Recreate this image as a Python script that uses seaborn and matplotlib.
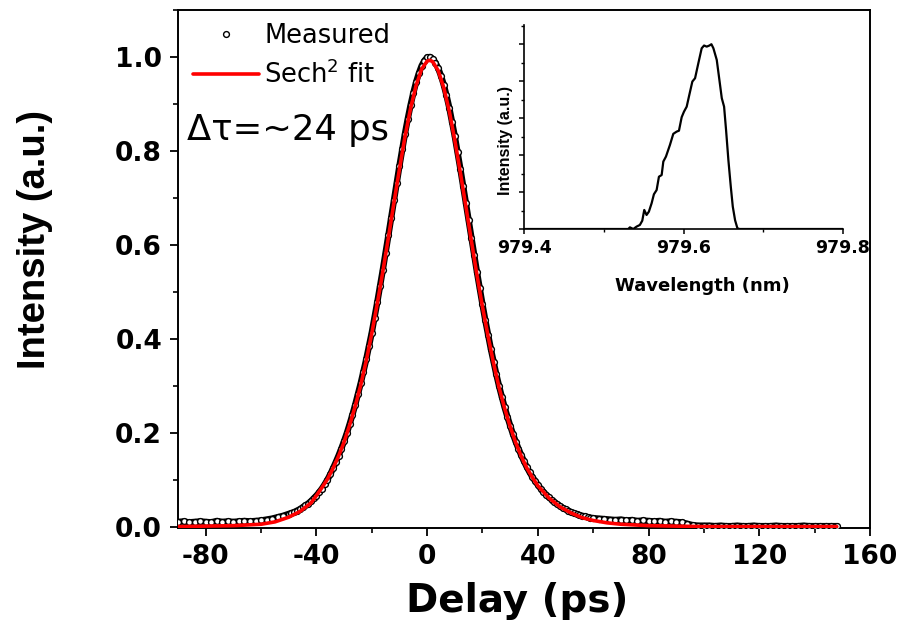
import numpy as np
import pandas as pd
import seaborn as sns
import matplotlib
matplotlib.use("Agg")
import matplotlib.pyplot as plt
from matplotlib.ticker import MultipleLocator, NullFormatter

# ---------------- data ----------------
delay_ps = [-90, -88, -86, -84, -82, -80, -78, -76, -74, -72, -70, -68, -66, -64, -62, -60, -58, -56, -54, -52, -50,
            -49, -48, -47, -46, -45, -44, -43, -42, -41, -40, -39, -38, -37, -36, -35, -34, -33, -32, -31, -30,
            -29, -28, -27, -26, -25, -24, -23, -22, -21, -20, -19, -18, -17, -16, -15, -14, -13, -12, -11, -10,
            -9, -8, -7, -6, -5, -4, -3, -2, -1, 0, 1, 2, 3, 4, 5, 6, 7, 8, 9, 10,
            11, 12, 13, 14, 15, 16, 17, 18, 19, 20, 21, 22, 23, 24, 25, 26, 27, 28, 29, 30,
            31, 32, 33, 34, 35, 36, 37, 38, 39, 40, 41, 42, 43, 44, 45, 46, 47, 48, 49, 50,
            51, 52, 53, 54, 55, 56, 57, 58, 59, 60,
            62, 64, 66, 68, 70, 72, 74, 76, 78, 80, 82, 84, 86, 88, 90, 92, 94, 96, 98, 100,
            102, 104, 106, 108, 110, 112, 114, 116, 118, 120, 122, 124, 126, 128, 130, 132, 134, 136, 138, 140,
            142, 144, 146, 148]
measured = [0.010, 0.011, 0.009, 0.010, 0.011, 0.010, 0.009, 0.012, 0.010, 0.011, 0.010, 0.011, 0.012, 0.011,
            0.012, 0.013, 0.015, 0.017, 0.020, 0.023, 0.027,
            0.029, 0.031, 0.034, 0.037, 0.041, 0.045, 0.049, 0.054, 0.060, 0.066,
            0.073, 0.081, 0.090, 0.100, 0.111, 0.124, 0.137, 0.151, 0.166, 0.182,
            0.199, 0.218, 0.238, 0.259, 0.282, 0.305, 0.330, 0.356, 0.384, 0.413,
            0.445, 0.478, 0.512, 0.547, 0.583, 0.620, 0.657, 0.695, 0.732, 0.768,
            0.803, 0.837, 0.868, 0.897, 0.923, 0.946, 0.965, 0.981, 0.992, 0.999,
            1.000, 0.996, 0.988, 0.976, 0.960, 0.941, 0.918, 0.892, 0.862, 0.831,
            0.797, 0.762, 0.726, 0.689, 0.652, 0.615, 0.578, 0.542, 0.507, 0.473,
            0.440, 0.409, 0.379, 0.351, 0.324, 0.299, 0.276, 0.254, 0.234, 0.215,
            0.197, 0.181, 0.166, 0.152, 0.139, 0.127, 0.116, 0.106, 0.097, 0.089,
            0.081, 0.074, 0.068, 0.062, 0.057, 0.052, 0.048, 0.044, 0.040, 0.037,
            0.034, 0.031, 0.029, 0.027, 0.025, 0.023, 0.022, 0.020, 0.019, 0.018,
            0.017, 0.016, 0.015, 0.014, 0.015, 0.013, 0.014, 0.012, 0.013, 0.012,
            0.011, 0.012, 0.010, 0.011, 0.010, 0.009, 0.006, 0.003, 0.002, 0.002,
            0.002, 0.001, 0.002, 0.001, 0.001, 0.002, 0.001, 0.001, 0.002, 0.001,
            0.001, 0.001, 0.002, 0.001, 0.001, 0.001, 0.001, 0.002, 0.001, 0.001,
            0.001, 0.001, 0.001, 0.001]

delay_fit = [-90, -80, -70, -60, -55, -50, -46, -42, -40, -38, -36, -34, -32, -30, -28, -26, -24, -22, -20,
             -18, -16, -14, -12, -10, -8, -6, -4, -2, 0, 1, 2, 4, 6, 8, 10, 12, 14, 16, 18, 20, 22, 24, 26,
             28, 30, 32, 34, 36, 38, 40, 44, 48, 52, 56, 60, 65, 70, 80, 90, 100, 120, 148]
fit_vals = [0.000, 0.001, 0.002, 0.005, 0.010, 0.020, 0.032, 0.050, 0.066, 0.083, 0.101, 0.124, 0.150,
            0.180, 0.216, 0.256, 0.301, 0.353, 0.411, 0.475, 0.543, 0.615, 0.689, 0.761, 0.830, 0.890,
            0.939, 0.974, 0.991, 0.993, 0.990, 0.971, 0.935, 0.885, 0.823, 0.754, 0.682, 0.608, 0.536,
            0.468, 0.406, 0.348, 0.296, 0.252, 0.213, 0.179, 0.150, 0.125, 0.105, 0.087, 0.061, 0.042,
            0.029, 0.019, 0.013, 0.008, 0.005, 0.002, 0.001, 0.000, 0.000, 0.000]

wavelength_nm = [979.400, 979.500, 979.5307, 979.5328, 979.5370, 979.5412, 979.5453, 979.5483, 979.5508,
                 979.5537, 979.5566, 979.5600, 979.5629, 979.5663, 979.5692, 979.5726, 979.5747, 979.5780,
                 979.5830, 979.5872, 979.5914, 979.5943, 979.5977, 979.6006, 979.6040, 979.6073, 979.6111,
                 979.6145, 979.6186, 979.6228, 979.6258, 979.6291, 979.6325, 979.6350, 979.6375, 979.6417,
                 979.6450, 979.6480, 979.6509, 979.6534, 979.6563, 979.6593, 979.6618, 979.6647, 979.6676,
                 979.6702, 979.700, 979.800]
spectrum = [0.0, 0.0, 0.0, 0.009, 0.0, 0.013, 0.022, 0.045, 0.103,
            0.076, 0.094, 0.139, 0.188, 0.211, 0.283, 0.292, 0.365, 0.392,
            0.455, 0.515, 0.527, 0.532, 0.605, 0.635, 0.662, 0.726, 0.798,
            0.816, 0.897, 0.978, 0.993, 0.987, 0.993, 1.000, 0.978, 0.915,
            0.807, 0.708, 0.662, 0.534, 0.372, 0.229, 0.121, 0.047, 0.004,
            0.0, 0.0, 0.0]

x_ticks = [-80, -40, 0, 40, 80, 120, 160]
x_tick_labels = ["-80", "-40", "0", "40", "80", "120", "160"]
y_ticks = [0.0, 0.2, 0.4, 0.6, 0.8, 1.0]
y_tick_labels = ["0.0", "0.2", "0.4", "0.6", "0.8", "1.0"]
inset_x_ticks = [979.4, 979.6, 979.8]
inset_x_tick_labels = ["979.4", "979.6", "979.8"]

# ---------------- style ----------------
sns.set_theme(style="ticks")
plt.rcParams["font.family"] = ["DejaVu Sans"]
plt.rcParams["mathtext.fontset"] = "custom"
plt.rcParams["mathtext.rm"] = "DejaVu Sans"
plt.rcParams["axes.linewidth"] = 1.4
plt.rcParams["axes.edgecolor"] = "black"

fig = plt.figure(figsize=(9.01, 6.28), dpi=100)
W, H = 901.0, 628.0

# ---------------- main axes ----------------
ax = fig.add_axes([178 / W, 1 - 528 / H, 692 / W, 518 / H])
sns.lineplot(x=delay_ps, y=measured, color="black", lw=4.6, estimator=None, sort=False,
             ax=ax, zorder=2)
sns.lineplot(x=delay_ps, y=measured, color="black", marker="o", linestyle="", markersize=4.2,
             markerfacecolor="white", markeredgecolor="black", markeredgewidth=1.0,
             estimator=None, sort=False, ax=ax, label="Measured", zorder=3)
sns.lineplot(x=delay_fit, y=fit_vals, color="red", lw=2.6, estimator=None, sort=False,
             ax=ax, label="Sech$^2$ fit", zorder=4)

ax.set_xlim(-90, 160)
ax.set_ylim(-0.003, 1.1)
ax.set_xticks(x_ticks)
ax.set_xticklabels(x_tick_labels, fontsize=19, fontweight="bold")
ax.set_yticks(y_ticks)
ax.set_yticklabels(y_tick_labels, fontsize=19, fontweight="bold")
ax.xaxis.set_minor_locator(MultipleLocator(20))
ax.yaxis.set_minor_locator(MultipleLocator(0.1))
ax.tick_params(axis="both", which="major", direction="out", length=5.5, width=1.3,
               colors="black", pad=6)
ax.tick_params(axis="both", which="minor", direction="out", length=3.5, width=1.2, colors="black")
for s in ax.spines.values():
    s.set_visible(True)
    s.set_color("black")
    s.set_linewidth(1.4)

ax.set_xlabel("Delay (ps)", fontsize=28, fontweight="bold", color="black")
ax.set_ylabel("Intensity (a.u.)", fontsize=27.5, fontweight="bold", color="black",
              family=["Liberation Sans", "DejaVu Sans"])
ax.xaxis.set_label_coords(0.49, -0.105)
ax.yaxis.set_label_coords(-0.18, 0.556)

leg = ax.legend(loc="upper left", bbox_to_anchor=(0.0217, 0.975), frameon=False, fontsize=18.5,
                handlelength=2.55, handletextpad=0.22, labelspacing=0.45, borderpad=0,
                borderaxespad=0)
for t in leg.get_texts():
    t.set_color("black")

fig.text(187 / W, 1 - 130 / H, "\u0394\u03c4=~24 ps", fontsize=25.5, va="center", ha="left",
         color="black")

# ---------------- inset ----------------
ax2 = fig.add_axes([524 / W, 1 - 229 / H, 319 / W, 204 / H])
ax2.patch.set_alpha(0)
sns.lineplot(x=wavelength_nm, y=spectrum, color="black", lw=1.6, estimator=None, sort=False, ax=ax2)
ax2.set_xlim(979.4, 979.8)
ax2.set_ylim(0, 1.104)
ax2.set_xticks(inset_x_ticks)
ax2.set_xticklabels(inset_x_tick_labels, fontsize=12.5, fontweight="bold")
ax2.xaxis.set_minor_locator(MultipleLocator(0.1))
ax2.yaxis.set_major_locator(MultipleLocator(0.2))
ax2.yaxis.set_minor_locator(MultipleLocator(0.1))
ax2.yaxis.set_major_formatter(NullFormatter())
ax2.tick_params(axis="both", which="major", direction="out", length=3.5, width=1.1, colors="black", pad=4)
ax2.tick_params(axis="both", which="minor", direction="out", length=2.2, width=1.0, colors="black")
ax2.spines["top"].set_visible(False)
ax2.spines["right"].set_visible(False)
for k in ("left", "bottom"):
    ax2.spines[k].set_linewidth(1.2)
    ax2.spines[k].set_color("black")
ax2.set_xlabel("Wavelength (nm)", fontsize=13, fontweight="bold", color="black")
ax2.set_ylabel("Intensity (a.u.)", fontsize=11.5, fontweight="bold", color="black",
               family=["Liberation Sans", "DejaVu Sans"])
ax2.xaxis.set_label_coords(0.558, -0.235)
ax2.yaxis.set_label_coords(-0.034, 0.436)

fig.savefig("out.png", dpi=100)
